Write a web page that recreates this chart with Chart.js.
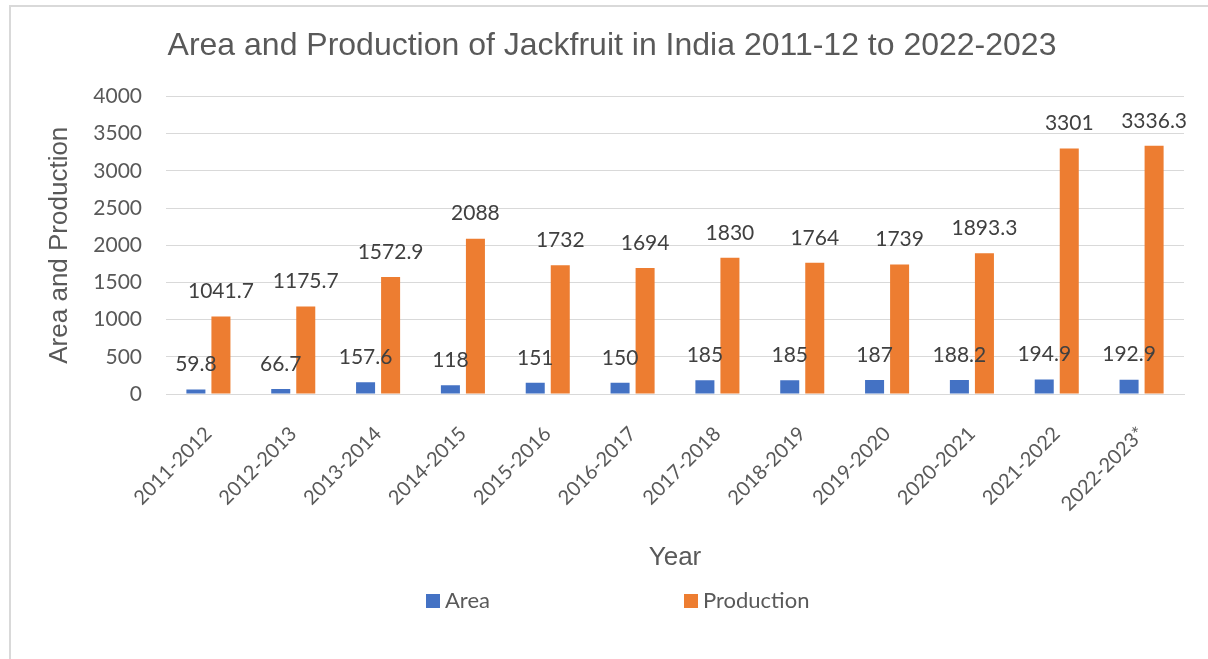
<!DOCTYPE html>
<html>
<head>
<meta charset="utf-8">
<title>Area and Production of Jackfruit in India</title>
<script src="https://cdn.jsdelivr.net/npm/chart.js@4.4.1/dist/chart.umd.min.js"></script>
<style>
  html, body { margin: 0; padding: 0; background: #fff; }
  #wrap { position: relative; width: 1208px; height: 659px; overflow: hidden; }
  #frame { position: absolute; left: 9px; top: 5px; width: 1400px; height: 900px; border: 2px solid #d9d9d9; box-sizing: border-box; }
  #jackfruitChart { position: absolute; left: 0; top: 0; }
</style>
</head>
<body>
<div id="wrap">
  <div id="frame"></div>
  <canvas id="jackfruitChart" width="1208" height="659"></canvas>
</div>
<script>
const years = ["2011-2012", "2012-2013", "2013-2014", "2014-2015", "2015-2016", "2016-2017",
  "2017-2018", "2018-2019", "2019-2020", "2020-2021", "2021-2022", "2022-2023*"];
const areaValues = [59.8, 66.7, 157.6, 118, 151, 150, 185, 185, 187, 188.2, 194.9, 192.9];
const productionValues = [1041.7, 1175.7, 1572.9, 2088, 1732, 1694, 1830, 1764, 1739, 1893.3, 3301, 3336.3];
const yTickValues = [0, 500, 1000, 1500, 2000, 2500, 3000, 3500, 4000];

const textGrey = "#595959";
const bodyFont = "Lato";

// value labels sitting above each bar, like the Excel data labels
const barLabels = {
  id: "barLabels",
  afterDatasetsDraw(chart) {
    const ctx = chart.ctx;
    ctx.save();
    ctx.font = "21px " + bodyFont;
    ctx.fillStyle = "#404040";
    ctx.textAlign = "center";
    ctx.textBaseline = "middle";
    chart.data.datasets.forEach((ds, i) => {
      chart.getDatasetMeta(i).data.forEach((bar, j) => {
        ctx.fillText(String(ds.data[j]), bar.x, bar.y - 25);
      });
    });
    ctx.restore();
  },
};

// spread-out legend under the axis title
const bottomLegend = {
  id: "bottomLegend",
  afterDraw(chart) {
    const ctx = chart.ctx;
    const entryX = [426, 684];
    const rowY = 601;
    ctx.save();
    ctx.font = "22px " + bodyFont;
    ctx.textBaseline = "middle";
    ctx.textAlign = "left";
    chart.data.datasets.forEach((ds, i) => {
      ctx.fillStyle = ds.backgroundColor;
      ctx.fillRect(entryX[i], rowY - 7, 14, 14);
      ctx.fillStyle = textGrey;
      ctx.fillText(ds.label, entryX[i] + 19, rowY);
    });
    ctx.restore();
  },
};

const ctx = document.getElementById("jackfruitChart").getContext("2d");
new Chart(ctx, {
  type: "bar",
  data: {
    labels: years,
    datasets: [
      {
        label: "Area",
        data: areaValues,
        backgroundColor: "#4472C4",
        categoryPercentage: 0.59,
        barPercentage: 0.76,
      },
      {
        label: "Production",
        data: productionValues,
        backgroundColor: "#ED7D31",
        categoryPercentage: 0.59,
        barPercentage: 0.76,
      },
    ],
  },
  options: {
    responsive: false,
    animation: false,
    layout: { padding: { left: 40, right: 24, top: 0, bottom: 84 } },
    plugins: {
      legend: { display: false },
      tooltip: { enabled: false },
      title: {
        display: true,
        text: "Area and Production of Jackfruit in India 2011-12 to 2022-2023",
        color: textGrey,
        font: { family: "Liberation Sans", size: 32, weight: "normal" },
        padding: { top: 27, bottom: 31 },
      },
    },
    scales: {
      x: {
        grid: { display: false },
        border: { color: "#d9d9d9", width: 1 },
        ticks: {
          color: textGrey,
          font: { family: bodyFont, size: 20 },
          maxRotation: 45,
          minRotation: 45,
          padding: 20,
        },
        title: {
          display: true,
          text: "Year",
          color: textGrey,
          font: { family: "Liberation Sans", size: 26 },
          padding: { top: 2, bottom: 2 },
        },
        afterFit(scale) {
          scale.height = 181;
        },
      },
      y: {
        min: 0,
        max: 4000,
        grid: { color: "#d9d9d9", lineWidth: 1, drawTicks: false },
        border: { display: false },
        afterBuildTicks(scale) {
          scale.ticks = yTickValues.map((v) => ({ value: v }));
        },
        ticks: {
          color: textGrey,
          font: { family: bodyFont, size: 21 },
          padding: 24,
          callback: (value) => String(value),
        },
        title: {
          display: true,
          text: "Area and Production",
          color: textGrey,
          font: { family: "Liberation Sans", size: 26 },
          padding: { top: 4, bottom: 4 },
        },
        afterFit(scale) {
          scale.width = 126;
        },
      },
    },
  },
  plugins: [barLabels, bottomLegend],
});
</script>
</body>
</html>
